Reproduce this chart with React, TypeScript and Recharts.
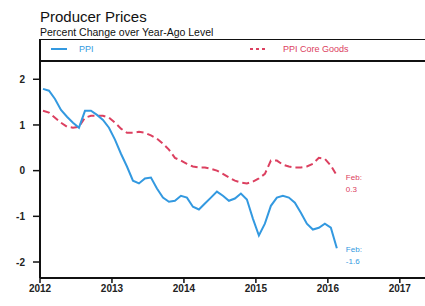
import { LineChart, Line, XAxis, YAxis, LabelList } from 'recharts'

const YEARS = [2012, 2013, 2014, 2015, 2016, 2017]
const Y_TICKS = [-2, -1, 0, 1, 2]

// monthly, Jan 2012 .. Feb 2016
const PPI = [
  1.79, 1.75, 1.57, 1.33, 1.18, 1.05, 0.94, 1.31, 1.31, 1.22, 1.11, 0.94,
  0.68, 0.37, 0.09, -0.22, -0.28, -0.17, -0.15, -0.39, -0.59, -0.68, -0.66, -0.55,
  -0.59, -0.79, -0.85, -0.72, -0.59, -0.46, -0.55, -0.66, -0.61, -0.5, -0.63, -1.05,
  -1.42, -1.16, -0.77, -0.59, -0.55, -0.59, -0.7, -0.92, -1.16, -1.29, -1.25, -1.16,
  -1.25, -1.7,
]
const PPI_CORE = [
  1.31, 1.27, 1.16, 1.05, 0.96, 0.94, 0.96, 1.16, 1.2, 1.2, 1.2, 1.16,
  1.05, 0.92, 0.83, 0.83, 0.85, 0.83, 0.77, 0.7, 0.59, 0.46, 0.28, 0.22,
  0.15, 0.09, 0.07, 0.07, 0.04, 0.0, -0.07, -0.15, -0.22, -0.26, -0.28, -0.24,
  -0.17, -0.07, 0.22, 0.22, 0.13, 0.09, 0.07, 0.07, 0.09, 0.15, 0.28, 0.26,
  0.11, -0.11,
]
const END_MONTH = 'Feb:'
const PPI_END = '-1.6'
const CORE_END = '0.3'

const BLUE = '#3399e0'
const RED = '#dc4060'
const FONT = '"Liberation Sans", Arial, sans-serif'

const data = PPI.map((v, i) => ({ t: 2012 + (i + 0.5) / 12, ppi: v, core: PPI_CORE[i] }))
const LAST = data.length - 1

const TICK = { fontSize: 10, fontWeight: 700, fill: '#222', fontFamily: FONT }

const endLabel = (color: string, val: string) =>
  // eslint-disable-next-line @typescript-eslint/no-explicit-any
  (p: any) => {
    if (p.index !== LAST) return null
    const x = Number(p.x) + 9
    const y = Number(p.y)
    return (
      <g fontFamily={FONT} fontSize={8} fill={color}>
        <text x={x} y={y + 4}>{END_MONTH}</text>
        <text x={x} y={y + 16}>{val}</text>
      </g>
    )
  }

export default function App() {
  return (
    <div style={{ position: 'absolute', left: 0, top: 0, width: 425, height: 306, background: '#fff', overflow: 'hidden', fontFamily: FONT }}>
      <div style={{ position: 'absolute', left: 40, top: 8, fontSize: 15, color: '#111' }}>Producer Prices</div>
      <div style={{ position: 'absolute', left: 40, top: 26, fontSize: 10.5, color: '#111' }}>Percent Change over Year-Ago Level</div>
      <div style={{ position: 'absolute', left: 39, top: 39, width: 400, height: 20, borderTop: '1.5px solid #111', borderLeft: '2px solid #111', borderBottom: '2px solid #111' }}>
        <svg width={30} height={20} style={{ position: 'absolute', left: 8, top: 0 }}>
          <line x1={2} y1={9} x2={18} y2={9} stroke={BLUE} strokeWidth={2} />
        </svg>
        <span style={{ position: 'absolute', left: 38, top: 4, fontSize: 9, color: BLUE }}>PPI</span>
        <svg width={30} height={20} style={{ position: 'absolute', left: 207, top: 0 }}>
          <line x1={2} y1={9} x2={18} y2={9} stroke={RED} strokeWidth={2} strokeDasharray="3 3" />
        </svg>
        <span style={{ position: 'absolute', left: 242, top: 4, fontSize: 9, color: RED }}>PPI Core Goods</span>
      </div>
      <div style={{ position: 'absolute', left: 0, top: 0 }}>
        <LineChart width={425} height={306} data={data} margin={{ top: 61, right: 0, bottom: 0, left: 10 }}>
          <XAxis
            dataKey="t"
            type="number"
            domain={[2012, 2017.35]}
            ticks={YEARS}
            allowDataOverflow
            tick={TICK}
            tickLine={{ stroke: '#111', strokeWidth: 1.5 }}
            tickSize={5}
            axisLine={{ stroke: '#111', strokeWidth: 2 }}
            height={28}
          />
          <YAxis
            type="number"
            domain={[-2.35, 2.4]}
            ticks={Y_TICKS}
            allowDataOverflow
            tick={TICK}
            tickLine={{ stroke: '#111', strokeWidth: 1.5 }}
            tickSize={7}
            tickMargin={8}
            axisLine={{ stroke: '#111', strokeWidth: 2 }}
            width={30}
          />
          <Line dataKey="core" stroke={RED} strokeWidth={2} strokeDasharray="7 4" dot={false} isAnimationActive={false}>
            <LabelList dataKey="core" content={endLabel(RED, CORE_END)} />
          </Line>
          <Line dataKey="ppi" stroke={BLUE} strokeWidth={2} dot={false} isAnimationActive={false}>
            <LabelList dataKey="ppi" content={endLabel(BLUE, PPI_END)} />
          </Line>
        </LineChart>
      </div>
    </div>
  )
}
